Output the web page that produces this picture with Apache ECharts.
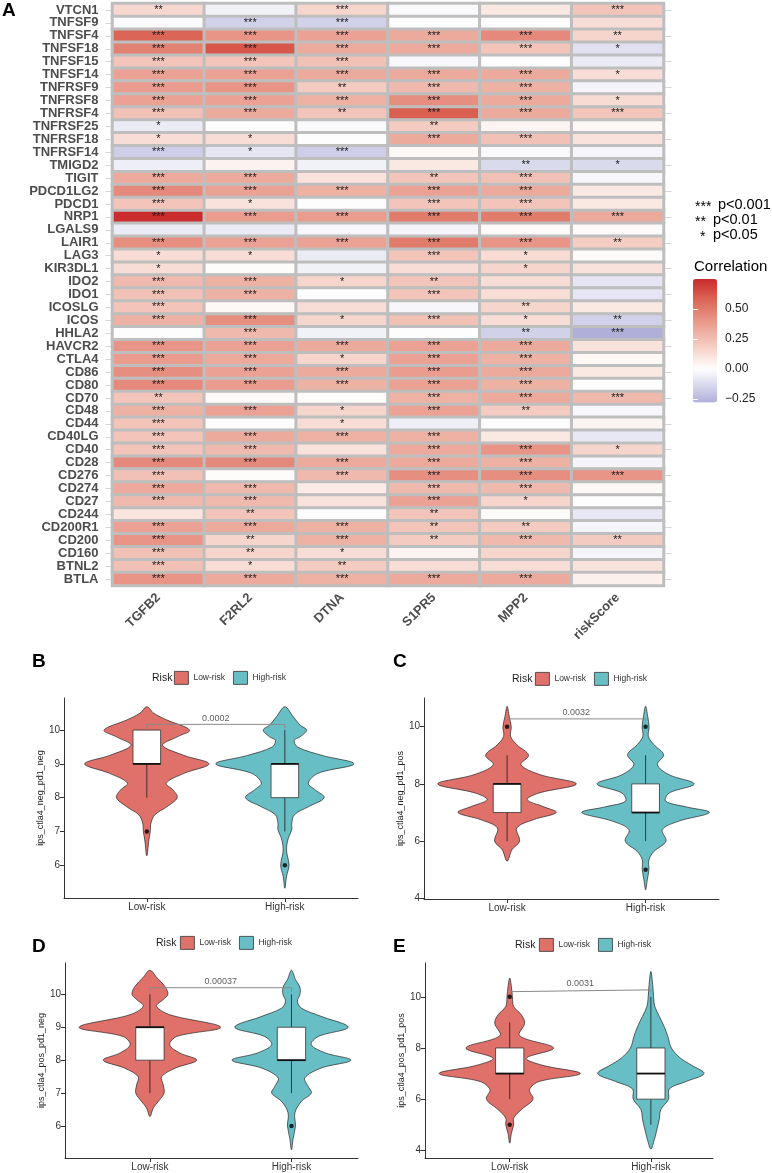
<!DOCTYPE html>
<html><head><meta charset="utf-8">
<script src="https://cdn.jsdelivr.net/npm/echarts@6/dist/echarts.min.js"></script>
<style>html,body{margin:0;padding:0;background:#fff}#c{width:772px;height:1173px}</style>
</head><body><div id="c"></div>
<script>
// ---------- DATA ----------
const genes = ['VTCN1','TNFSF9','TNFSF4','TNFSF18','TNFSF15','TNFSF14','TNFRSF9','TNFRSF8','TNFRSF4','TNFRSF25','TNFRSF18','TNFRSF14','TMIGD2','TIGIT','PDCD1LG2','PDCD1','NRP1','LGALS9','LAIR1','LAG3','KIR3DL1','IDO2','IDO1','ICOSLG','ICOS','HHLA2','HAVCR2','CTLA4','CD86','CD80','CD70','CD48','CD44','CD40LG','CD40','CD28','CD276','CD274','CD27','CD244','CD200R1','CD200','CD160','BTNL2','BTLA'];
const methods = ['TGFB2','F2RL2','DTNA','S1PR5','MPP2','riskScore'];

const corTGFB2 = [0.15,-0.02,0.58,0.48,0.22,0.36,0.38,0.36,0.24,-0.07,0.13,-0.17,-0.06,0.33,0.45,0.22,0.74,-0.07,0.43,0.13,0.13,0.27,0.24,0.22,0.30,0.00,0.41,0.38,0.43,0.45,0.22,0.30,0.22,0.22,0.22,0.45,0.24,0.33,0.27,0.10,0.36,0.41,0.24,0.24,0.41];
const corF2RL2 = [-0.05,-0.16,0.41,0.62,0.22,0.36,0.41,0.36,0.33,0.00,0.13,-0.09,0.05,0.33,0.36,0.11,0.38,-0.07,0.36,0.13,0.01,0.30,0.30,0.03,0.43,0.27,0.36,0.33,0.36,0.38,0.02,0.36,0.00,0.33,0.27,0.45,0.01,0.27,0.27,0.22,0.33,0.16,0.16,0.13,0.33];
const corDTNA = [0.16,-0.16,0.36,0.33,0.24,0.33,0.20,0.30,0.22,-0.02,0.00,-0.17,-0.05,0.11,0.30,0.00,0.38,-0.03,0.36,-0.07,-0.05,0.16,0.00,0.13,0.16,-0.05,0.33,0.16,0.33,0.30,0.01,0.16,0.13,0.30,0.11,0.33,0.27,0.08,0.11,0.00,0.30,0.30,0.13,0.20,0.30];
const corS1PR5 = [-0.02,0.00,0.33,0.33,-0.03,0.33,0.27,0.43,0.60,0.20,0.33,0.03,0.09,0.22,0.36,0.22,0.50,-0.04,0.50,0.22,0.13,0.22,0.22,-0.03,0.24,0.00,0.36,0.36,0.38,0.36,0.30,0.36,-0.06,0.30,0.33,0.33,0.43,0.27,0.36,0.22,0.22,0.20,0.04,0.13,0.33];
const corMPP2 = [0.09,0.00,0.45,0.22,0.00,0.33,0.30,0.33,0.33,0.04,0.24,-0.02,-0.13,0.24,0.33,0.22,0.50,0.02,0.41,0.14,0.16,0.13,0.13,0.16,0.13,-0.16,0.33,0.30,0.33,0.30,0.33,0.20,0.00,0.09,0.41,0.30,0.43,0.27,0.16,0.01,0.20,0.27,0.16,0.13,0.33];
const corRisk = [0.22,0.13,0.16,-0.11,-0.07,0.13,-0.04,0.14,0.22,0.03,0.11,-0.04,-0.13,-0.03,0.09,0.09,0.33,0.02,0.19,0.02,0.11,-0.09,-0.09,0.09,-0.16,-0.28,0.11,0.03,0.09,0.00,0.27,-0.03,0.04,-0.08,0.16,-0.04,0.41,0.03,0.00,-0.08,-0.04,0.20,-0.04,0.11,0.06];

const starTGFB2 = ['**','','***','***','***','***','***','***','***','*','*','***','','***','***','***','***','','***','*','*','***','***','***','***','','***','***','***','***','**','***','***','***','***','***','***','***','***','','***','***','***','***','***'];
const starF2RL2 = ['','***','***','***','***','***','***','***','***','','*','*','','***','***','*','***','','***','*','','***','***','','***','***','***','***','***','***','','***','','***','***','***','','***','***','**','***','**','**','*','***'];
const starDTNA = ['***','***','***','***','***','***','**','***','**','','','***','','','***','','***','','***','','','*','','','*','','***','*','***','***','','*','*','***','','***','***','','','','***','***','*','**','***'];
const starS1PR5 = ['','','***','***','','***','***','***','***','**','***','','','**','***','***','***','','***','***','','**','***','','***','','***','***','***','***','***','***','','***','***','***','***','***','***','**','**','**','','','***'];
const starMPP2 = ['','','***','***','','***','***','***','***','','***','','**','***','***','***','***','','***','*','*','','','**','*','**','***','***','***','***','***','**','','','***','***','***','***','*','','**','***','','','***'];
const starRisk = ['***','','**','*','','*','','*','***','','','','*','','','','***','','**','','','','','','**','***','','','','','***','','','','*','','***','','','','','**','','',''];

const legendTicks = [-0.25, 0, 0.25, 0.5];
const groups = ['Low-risk','High-risk'];

// violin outlines: [score, half-width (x units)]
const violinB_low = [[10.69,0],[10.5,0.05],[10.3,0.145],[10.0,0.31],[9.8,0.22],[9.55,0.115],[9.25,0.27],[9.0,0.45],[8.72,0.27],[8.43,0.14],[8.23,0.19],[8.0,0.22],[7.73,0.145],[7.5,0.06],[7.25,0.03],[7.0,0.025],[6.75,0.015],[6.28,0]];
const violinB_high = [[10.69,0],[10.4,0.06],[10.15,0.11],[10.0,0.157],[9.8,0.11],[9.7,0.068],[9.5,0.092],[9.25,0.27],[9.0,0.5],[8.72,0.24],[8.43,0.17],[8.23,0.22],[8.0,0.285],[7.73,0.17],[7.5,0.07],[7.25,0.05],[7.05,0.05],[6.8,0.025],[6.45,0.012],[6.0,0.03],[5.67,0.012],[5.32,0]];
const violinC_low = [[10.71,0],[10.36,0.015],[10.0,0.03],[9.66,0.025],[9.37,0.07],[9.0,0.155],[8.67,0.1],[8.32,0.24],[8.0,0.5],[7.68,0.23],[7.45,0.145],[7.2,0.265],[7.0,0.355],[6.75,0.19],[6.46,0.07],[6.0,0.09],[5.7,0.035],[5.3,0]];
const violinC_high = [[10.71,0],[10.36,0.015],[10.0,0.025],[9.66,0.02],[9.37,0.06],[9.02,0.13],[8.67,0.085],[8.32,0.17],[8.0,0.35],[7.68,0.17],[7.4,0.145],[7.2,0.29],[7.0,0.46],[6.7,0.24],[6.4,0.12],[6.0,0.147],[5.64,0.06],[5.35,0.024],[5.0,0.024],[4.65,0.012],[4.3,0]];
const violinD_low = [[10.73,0],[10.5,0.05],[10.24,0.106],[10.0,0.127],[9.84,0.094],[9.64,0.047],[9.38,0.14],[9.0,0.5],[8.72,0.19],[8.47,0.14],[8.22,0.21],[8.0,0.33],[7.76,0.18],[7.5,0.083],[7.25,0.094],[7.0,0.1],[6.75,0.06],[6.55,0.024],[6.29,0]];
const violinD_high = [[10.73,0],[10.45,0.028],[10.22,0.059],[10.0,0.06],[9.79,0.042],[9.58,0.07],[9.33,0.21],[9.0,0.4],[8.72,0.19],[8.47,0.14],[8.22,0.24],[8.0,0.42],[7.76,0.21],[7.46,0.094],[7.2,0.118],[7.0,0.14],[6.75,0.07],[6.4,0.024],[6.0,0.028],[5.63,0.012],[5.28,0]];
const violinE_low = [[10.73,0],[10.4,0.012],[10.0,0.019],[9.62,0.028],[9.3,0.082],[8.97,0.106],[8.48,0.07],[8.0,0.31],[7.6,0.118],[7.32,0.235],[7.0,0.5],[6.69,0.21],[6.37,0.14],[6.0,0.165],[5.59,0.082],[5.26,0.028],[5.0,0.028],[4.67,0.012],[4.28,0]];
const violinE_high = [[10.99,0],[10.4,0.014],[10.0,0.019],[9.62,0.028],[9.23,0.06],[8.84,0.094],[8.45,0.12],[8.0,0.145],[7.6,0.21],[7.32,0.29],[7.0,0.376],[6.69,0.25],[6.4,0.13],[6.0,0.125],[5.59,0.07],[5.2,0.059],[4.8,0.042],[4.41,0.024],[4.05,0]];

// boxes: [lower whisker, Q1, median, Q3, upper whisker]
const boxB = [[8,9,9,10,10],[7,8,9,9,10]];
const boxC = [[6,7,8,8,9],[6,7,7,8,9]];
const boxD = [[7,8,9,9,10],[7,8,8,9,10]];
const boxE = [[6,7,7,8,9],[5,6,7,8,10]];
const outB = [[7],[6]];
const outC = [[10],[10,5]];
const outD = [[],[6]];
const outE = [[10,5],[]];

const yTicksB = [6,7,8,9,10];
const yTicksC = [4,6,8,10];
const yTicksD = [6,7,8,9,10];
const yTicksE = [4,6,8,10];
const pvals = ['0.0002','0.0032','0.00037','0.0031'];
const yNames = ['ips_ctla4_neg_pd1_neg','ips_ctla4_neg_pd1_pos','ips_ctla4_pos_pd1_neg','ips_ctla4_pos_pd1_pos'];

// ---------- BUILD ----------
const FONT = 'Liberation Sans';
const corCols = [corTGFB2, corF2RL2, corDTNA, corS1PR5, corMPP2, corRisk];
const starCols = [starTGFB2, starF2RL2, starDTNA, starS1PR5, starMPP2, starRisk];
const heatData = [];
for (let c = 0; c < methods.length; c++) for (let r = 0; r < genes.length; r++) heatData.push([c, r, corCols[c][r]]);

const VMIN = -0.28, VMAX = 0.75;
const anchors = [[-0.28,[175,175,217]],[0,[255,255,255]],[0.2,[244,203,192]],[0.4,[232,152,138]],[0.6,[217,95,80]],[0.75,[200,42,44]]];
function colAt(v){
  for (let i=1;i<anchors.length;i++){
    if (v <= anchors[i][0] + 1e-9){
      const a=anchors[i-1], b=anchors[i], t=(v-a[0])/(b[0]-a[0]);
      const c=a[1].map((x,k)=>Math.round(x+(b[1][k]-x)*t));
      return 'rgb('+c.join(',')+')';
    }
  }
  return 'rgb('+anchors[anchors.length-1][1].join(',')+')';
}
const cbColors = [];
for (let i=0;i<=60;i++) cbColors.push(colAt(VMIN + (VMAX-VMIN)*i/60));

const RED = '#E0706A', TEAL = '#68BEC5';

const panels = [
  {grid:{left:64, top:698, width:294, height:200}, x:[0.4,2.53], y:[5.03,10.95], ticks:yTicksB, v:[violinB_low, violinB_high], box:boxB, out:outB, br:[10.05,10.17], nameGap:16, legend:{left:174, top:671}, risk:[152,678], letter:['B',32,662]},
  {grid:{left:424, top:698, width:295, height:201}, x:[0.4,2.53], y:[3.98,11.0], ticks:yTicksC, v:[violinC_low, violinC_high], box:boxC, out:outC, br:[10.2,10.27], nameGap:18, legend:{left:535, top:672}, risk:[512,679], letter:['C',393,662]},
  {grid:{left:65, top:963, width:293, height:195}, x:[0.4,2.47], y:[5.03,10.95], ticks:yTicksD, v:[violinD_low, violinD_high], box:boxD, out:outD, br:[10.06,10.2], nameGap:17, legend:{left:180, top:936}, risk:[156,943], letter:['D',32,947]},
  {grid:{left:425, top:963, width:288, height:195}, x:[0.4,2.44], y:[3.7,11.32], ticks:yTicksE, v:[violinE_low, violinE_high], box:boxE, out:outE, br:[10.2,10.27], nameGap:19, legend:{left:539, top:938}, risk:[515,945], letter:['E',393,947]}
];

const grids = [{left:112.5, top:3.5, width:551, height:582}];
const xAxes = [{type:'category', gridIndex:0, data:methods, position:'bottom', axisLine:{show:false}, axisTick:{show:false}, splitLine:{show:false},
  axisLabel:{interval:0, rotate:45, margin:10, fontFamily:FONT, fontSize:13, fontWeight:'bold', color:'#4D4D4D'}}];
const yAxes = [
  {type:'category', gridIndex:0, data:genes, inverse:true, axisLine:{show:false}, splitLine:{show:false},
   axisTick:{show:true, alignWithLabel:true, length:7, lineStyle:{color:'#D6D6D6'}},
   axisLabel:{interval:0, margin:14, fontFamily:FONT, fontSize:13, fontWeight:'bold', color:'#4D4D4D'}},
  {type:'category', gridIndex:0, data:genes, inverse:true, position:'right', axisLine:{show:false}, splitLine:{show:false},
   axisTick:{show:true, alignWithLabel:true, length:8, lineStyle:{color:'#D6D6D6'}}, axisLabel:{show:false}}
];
const series = [{
  type:'heatmap', xAxisIndex:0, yAxisIndex:0, data:heatData, progressive:0,
  itemStyle:{borderColor:'#BEBEBE', borderWidth:3},
  label:{show:true, formatter:p=>starCols[p.data[0]][p.data[1]], fontFamily:FONT, fontSize:11, color:'#1a1a1a'},
  emphasis:{disabled:true}
}];
const legends = [];
const graphics = [
  {type:'text', x:2, y:11, style:{text:'A', font:'bold 19px '+FONT, fill:'#000', verticalAlign:'middle'}},
  {type:'text', x:695, y:207, style:{text:'***', font:'14px '+FONT, fill:'#000', verticalAlign:'middle'}},
  {type:'text', x:718, y:205, style:{text:'p<0.001', font:'14.5px '+FONT, fill:'#000', verticalAlign:'middle'}},
  {type:'text', x:695, y:222, style:{text:'**', font:'14px '+FONT, fill:'#000', verticalAlign:'middle'}},
  {type:'text', x:713, y:220, style:{text:'p<0.01', font:'14.5px '+FONT, fill:'#000', verticalAlign:'middle'}},
  {type:'text', x:700, y:237, style:{text:'*', font:'14px '+FONT, fill:'#000', verticalAlign:'middle'}},
  {type:'text', x:713, y:235, style:{text:'p<0.05', font:'14.5px '+FONT, fill:'#000', verticalAlign:'middle'}},
  {type:'text', x:694, y:267, style:{text:'Correlation', font:'15px '+FONT, fill:'#000', verticalAlign:'middle'}}
];

panels.forEach((P, k) => {
  const gi = k + 1, xi = k + 1, yi = k + 2;
  grids.push(P.grid);
  xAxes.push({type:'value', gridIndex:gi, min:P.x[0], max:P.x[1], splitLine:{show:false},
    axisLine:{show:true, onZero:false, lineStyle:{color:'#333', width:1}},
    axisTick:{show:true, customValues:[1,2], length:4, lineStyle:{color:'#333'}},
    axisLabel:{customValues:[1,2], formatter:v=>groups[Math.round(v)-1], fontFamily:FONT, fontSize:10, color:'#333', margin:4}});
  yAxes.push({type:'value', gridIndex:gi, min:P.y[0], max:P.y[1], splitLine:{show:false},
    name:yNames[k], nameLocation:'middle', nameRotate:90, nameGap:P.nameGap, nameTextStyle:{fontFamily:FONT, fontSize:9, color:'#222'},
    axisLine:{show:true, onZero:false, lineStyle:{color:'#333', width:1}},
    axisTick:{show:true, customValues:P.ticks, length:4, lineStyle:{color:'#333'}},
    axisLabel:{customValues:P.ticks, fontFamily:FONT, fontSize:10, color:'#333', margin:4}});
  [0,1].forEach(g => {
    const prof = P.v[g], cx = g + 1, col = g === 0 ? RED : TEAL;
    series.push({type:'custom', name:groups[g], xAxisIndex:xi, yAxisIndex:yi, z:2, silent:true,
      itemStyle:{color:col},
      data:prof.map(p=>[cx, p[0], p[1]]),
      encode:{x:0, y:1},
      renderItem:(params, api) => {
        if (params.dataIndex !== 0) return {type:'group', children:[]};
        const right = prof.map(p => api.coord([cx + p[1], p[0]]));
        const left = prof.slice(1, -1).reverse().map(p => api.coord([cx - p[1], p[0]]));
        return {type:'polygon', shape:{points:right.concat(left), smooth:0.35},
          style:{fill:col, stroke:'#222', lineWidth:0.7}};
      }});
    const b = P.box[g];
    series.push({type:'custom', xAxisIndex:xi, yAxisIndex:yi, z:3, silent:true,
      data:[[cx].concat(b)], encode:{x:0, y:[1,2,3,4,5]},
      renderItem:(params, api) => {
        const x = api.value(0), lo = api.value(1), q1 = api.value(2), md = api.value(3), q3 = api.value(4), hi = api.value(5);
        const bw = 0.1;
        const pLo = api.coord([x, lo]), pQ1 = api.coord([x, q1]), pQ3 = api.coord([x, q3]), pHi = api.coord([x, hi]);
        const l = api.coord([x - bw, md]), r = api.coord([x + bw, md]);
        const ln = {stroke:'#1a1a1a', lineWidth:0.8};
        return {type:'group', children:[
          {type:'line', shape:{x1:pQ1[0], y1:pQ1[1], x2:pLo[0], y2:pLo[1]}, style:ln},
          {type:'line', shape:{x1:pQ3[0], y1:pQ3[1], x2:pHi[0], y2:pHi[1]}, style:ln},
          {type:'rect', shape:{x:l[0], y:pQ3[1], width:r[0]-l[0], height:pQ1[1]-pQ3[1]}, style:{fill:'#fff', stroke:'#333', lineWidth:0.8}},
          {type:'line', shape:{x1:l[0], y1:l[1], x2:r[0], y2:r[1]}, style:{stroke:'#111', lineWidth:1.8}}
        ]};
      }});
    if (P.out[g].length) series.push({type:'scatter', xAxisIndex:xi, yAxisIndex:yi, z:4, silent:true, symbolSize:4.5,
      itemStyle:{color:'#000'}, data:P.out[g].map(v=>[cx, v])});
  });
  series.push({type:'line', xAxisIndex:xi, yAxisIndex:yi, z:4, silent:true, symbol:'none',
    lineStyle:{color:'#8a8a8a', width:1}, data:[[1,P.br[0]],[1,P.br[1]],[2,P.br[1]],[2,P.br[0]]]});
  series.push({type:'scatter', xAxisIndex:xi, yAxisIndex:yi, z:4, silent:true, symbolSize:1, itemStyle:{color:'rgba(0,0,0,0)'},
    data:[[1.5, P.br[1]]], label:{show:true, position:'top', distance:1, formatter:pvals[k], fontFamily:FONT, fontSize:9, color:'#333'}});
  legends.push({data:groups, left:P.legend.left, top:P.legend.top, padding:0, itemWidth:14, itemHeight:13, itemGap:8, icon:'rect',
    selectedMode:false, itemStyle:{borderColor:'#333', borderWidth:0.8}, textStyle:{fontFamily:FONT, fontSize:8.5, color:'#333'}});
  graphics.push({type:'text', x:P.risk[0], y:P.risk[1], style:{text:'Risk', font:'10.5px '+FONT, fill:'#222', verticalAlign:'middle'}});
  graphics.push({type:'text', x:P.letter[1], y:P.letter[2], style:{text:P.letter[0], font:'bold 19px '+FONT, fill:'#000', verticalAlign:'middle'}});
});

// colour bar axes
grids.push({left:693, top:279, width:24, height:(VMAX-VMIN)*120});
xAxes.push({type:'value', gridIndex:5, show:false});
const fmtTick = v => v.toFixed(2).replace('-', '\u2212');
yAxes.push({type:'value', gridIndex:5, min:VMIN, max:VMAX, position:'right', z:10, splitLine:{show:false}, axisLine:{show:false},
  axisTick:{show:true, inside:true, length:5, customValues:legendTicks, lineStyle:{color:'#fff', width:1}},
  axisLabel:{customValues:legendTicks, formatter:fmtTick, fontFamily:FONT, fontSize:12, color:'#222', margin:8}});
yAxes.push({type:'value', gridIndex:5, min:VMIN, max:VMAX, position:'left', z:10, splitLine:{show:false}, axisLine:{show:false},
  axisTick:{show:true, inside:true, length:5, customValues:legendTicks, lineStyle:{color:'#fff', width:1}},
  axisLabel:{show:false}});

const chart = echarts.init(document.getElementById('c'), null, {renderer:'canvas'});
chart.setOption({
  animation:false,
  backgroundColor:'#fff',
  textStyle:{fontFamily:FONT},
  grid:grids, xAxis:xAxes, yAxis:yAxes, legend:legends,
  visualMap:{type:'continuous', seriesIndex:0, dimension:2, min:VMIN, max:VMAX, calculable:false, showLabel:false, hoverLink:false,
    left:693, top:279, itemWidth:24, itemHeight:(VMAX-VMIN)*120, padding:0, inRange:{color:cbColors}},
  series:series,
  graphic:graphics
});
</script></body></html>
